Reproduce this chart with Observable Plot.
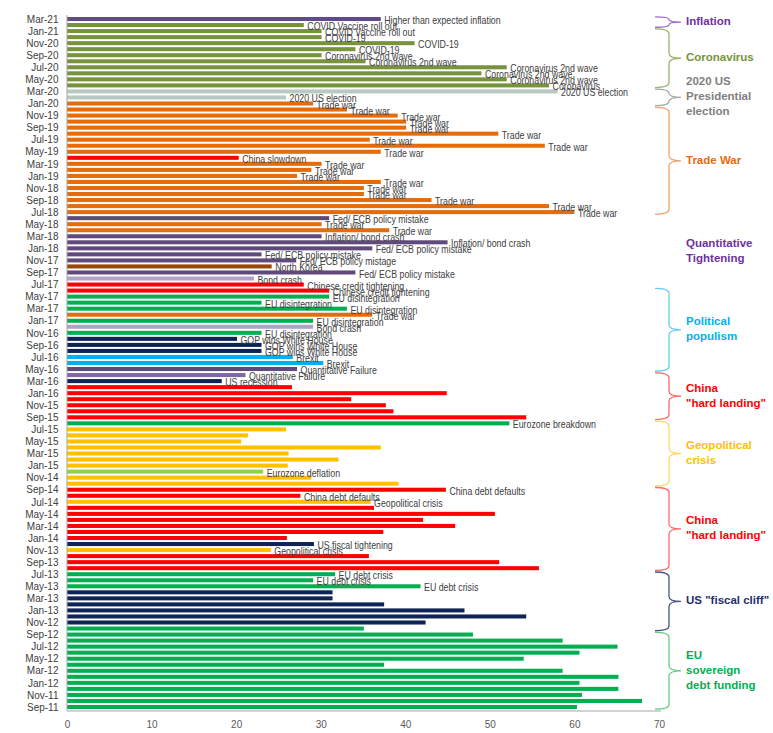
<!DOCTYPE html>
<html><head><meta charset="utf-8">
<script src="https://cdn.jsdelivr.net/npm/d3@7"></script>
<script src="https://cdn.jsdelivr.net/npm/@observablehq/plot@0.6"></script>
<style>
html,body{margin:0;padding:0;background:#fff;}
#chart svg{display:block;overflow:visible;}
</style></head><body><div id="chart"></div>
<script>
// Months, oldest to newest
const months = [
  "Sep-11","Oct-11","Nov-11","Dec-11",
  "Jan-12","Feb-12","Mar-12","Apr-12","May-12","Jun-12","Jul-12","Aug-12","Sep-12","Oct-12","Nov-12","Dec-12",
  "Jan-13","Feb-13","Mar-13","Apr-13","May-13","Jun-13","Jul-13","Aug-13","Sep-13","Oct-13","Nov-13","Dec-13",
  "Jan-14","Feb-14","Mar-14","Apr-14","May-14","Jun-14","Jul-14","Aug-14","Sep-14","Oct-14","Nov-14","Dec-14",
  "Jan-15","Feb-15","Mar-15","Apr-15","May-15","Jun-15","Jul-15","Aug-15","Sep-15","Oct-15","Nov-15","Dec-15",
  "Jan-16","Feb-16","Mar-16","Apr-16","May-16","Jun-16","Jul-16","Aug-16","Sep-16","Oct-16","Nov-16","Dec-16",
  "Jan-17","Feb-17","Mar-17","Apr-17","May-17","Jun-17","Jul-17","Aug-17","Sep-17","Oct-17","Nov-17","Dec-17",
  "Jan-18","Feb-18","Mar-18","Apr-18","May-18","Jun-18","Jul-18","Aug-18","Sep-18","Oct-18","Nov-18","Dec-18",
  "Jan-19","Feb-19","Mar-19","Apr-19","May-19","Jun-19","Jul-19","Aug-19","Sep-19","Oct-19","Nov-19","Dec-19",
  "Jan-20","Feb-20","Mar-20","Apr-20","May-20","Jun-20","Jul-20","Aug-20","Sep-20","Oct-20","Nov-20","Dec-20",
  "Jan-21","Feb-21","Mar-21"
];
const values = [
  60.3,68.0,60.9,65.2,
  60.6,65.2,58.6,37.5,54.0,60.6,65.1,58.6,48.0,35.1,42.4,54.3,
  47.0,37.5,31.4,31.4,41.8,29.1,31.7,55.8,51.1,35.7,24.1,29.2,
  26.0,37.4,45.9,42.1,50.6,36.3,35.9,27.6,44.8,39.2,28.9,23.2,
  26.1,32.1,26.2,37.1,20.6,21.4,25.9,52.3,54.3,38.6,37.7,33.6,
  44.9,26.6,18.3,21.1,27.2,30.3,26.7,23.0,23.0,20.1,23.0,29.1,
  29.1,36.1,33.1,23.0,31.0,31.0,28.0,22.1,34.1,24.2,27.1,23.0,
  36.1,45.0,30.1,38.1,30.1,31.0,60.0,57.0,43.1,35.1,35.1,37.1,
  27.2,28.9,30.1,20.3,37.1,56.5,35.8,51.0,40.1,40.1,39.1,33.1,
  29.1,25.9,58.0,57.0,52.0,49.0,52.0,35.3,30.1,34.1,41.1,30.1,
  30.1,28.0,37.1
];
const themes = [
  "EU","EU","EU","EU",
  "EU","EU","EU","EU","EU","EU","EU","EU","EU","EU","US","US",
  "US","US","US","US","EU","EU","EU","China","China","China","Geo","US",
  "China","China","China","China","China","China","Geo","China","China","Geo","Geo","Deflation",
  "Geo","Geo","Geo","Geo","Geo","Geo","Geo","EU","China","China","China","China",
  "China","China","US","QTlight","QT","Populism","Populism","US","US","US","EU","BondCrash",
  "EU","Trade","EU","EU","EU","China","China","BondCrash","QT","NK","QT","QT",
  "QT","QT","QT","Trade","Trade","QT","Trade","Trade","Trade","Trade","Trade","Trade",
  "Trade","Trade","Trade","China","Trade","Trade","Trade","Trade","Trade","Trade","Trade","Trade",
  "Trade","Election","Election","Covid","Covid","Covid","Covid","Covid","Covid","Covid","Covid","Covid",
  "Covid","Covid","Inflation"
];
const labels = [
  "","","","",
  "","","","","","","","","","","","",
  "","","","","EU debt crisis","EU debt crisis","EU debt crisis","","","","Geopolitical crisis","US fiscal tightening",
  "","","","","","","Geopolitical crisis","China debt defaults","China debt defaults","","","Eurozone deflation",
  "","","","","","","","Eurozone breakdown","","","","",
  "","","US recession","Quantitative Failure","Quantitative Failure","Brexit","Brexit","GOP wins White House","GOP wins White House","GOP wins White House","EU disintegration","Bond crash",
  "EU disintegration","Trade war","EU disintegration","EU disintegration","EU disintegration","Chinese credit tightening","Chinese credit tightening","Bond crash","Fed/ ECB policy mistake","North Korea","Fed/ ECB policy mistage","Fed/ ECB policy mistake",
  "Fed/ ECB policy mistake","Inflation/ bond crash","Inflation/ bond crash","Trade war","Trade war","Fed/ ECB policy mistake","Trade war","Trade war","Trade war","Trade war","Trade war","Trade war",
  "Trade war","Trade war","Trade war","China slowdown","Trade war","Trade war","Trade war","Trade war","Trade war","Trade war","Trade war","Trade war",
  "Trade war","2020 US election","2020 US election","Coronavirus","Coronavirus 2nd wave","Coronavirus 2nd wave","Coronavirus 2nd wave","Coronavirus 2nd wave","Coronavirus 2nd wave","COVID-19","COVID-19","COVID-19",
  "COVID Vaccine roll out","COVID Vaccine roll out","Higher than expected inflation"
];
const xTicks = [0,10,20,30,40,50,60,70];
const yTicks = months.filter(m => /^(Jan|Mar|May|Jul|Sep|Nov)/.test(m));

// Right-hand theme annotations
const groupNames = ["Inflation","Coronavirus","2020 US\nPresidential\nelection","Trade War","Quantitative\nTightening","Political\npopulism","China\n\"hard landing\"","Geopolitical\ncrisis","China\n\"hard landing\"","US \"fiscal cliff\"","EU\nsovereign\ndebt funding"];
const groupFrom = ["Mar-21","Jan-21","Mar-20","Dec-19","Jun-18","Jun-17","Apr-16","Aug-15","Sep-14","Jul-13","Sep-12"];
const groupTo   = ["Feb-21","Apr-20","Jan-20","Jul-18","Jul-17","May-16","Sep-15","Oct-14","Aug-13","Oct-12","Sep-11"];
const groupKeys = ["Inflation","Covid","Election","Trade","QT","Populism","China","Geo","China","US","EU"];
const groupBracket = [true,true,true,true,false,true,true,true,true,true,true];

// styles
const barColor = {
  EU:"#00b050", US:"#0e2356", China:"#ff0000", Geo:"#ffc000", Deflation:"#92d050",
  QT:"#604a7b", QTlight:"#7d68a0", BondCrash:"#b3a2c7", Populism:"#00b0f0",
  Trade:"#e46c0a", NK:"#984807", Election:"#b7cabf", Covid:"#77933c", Inflation:"#5f4a8b"
};
const textColor = {Inflation:"#7030a0", Covid:"#77933c", Election:"#7f7f7f", Trade:"#e46c0a", QT:"#7030a0",
  Populism:"#00b0f0", China:"#ff0000", Geo:"#ffc000", US:"#1f2e6b", EU:"#00b050"};
const braceColor = {Inflation:"#a070d0", Covid:"#9bb56a", Election:"#a6a6a6", Trade:"#f4a06a", QT:"#7030a0",
  Populism:"#66ccf5", China:"#ff6a6a", Geo:"#ffd966", US:"#4a5680", EU:"#66cc88"};

const data = months.map((m, i) => ({month: m, value: values[i], theme: themes[i], label: labels[i]}));
const groups = groupNames.map((n, i) => ({name: n, from: groupFrom[i], to: groupTo[i], key: groupKeys[i], bracket: groupBracket[i]}));

const sans = "'Liberation Sans',Arial,sans-serif";

function annotations(index, scales, vals, dims) {
  const {width, marginRight, marginLeft, marginTop, height, marginBottom} = dims;
  const y = scales.y;
  const bw = y.bandwidth();
  const step = y.step();
  const gap = (step - bw) / 2;
  const g = d3.create("svg:g").attr("text-anchor", "start");
  const xr = width - marginRight;
  // axis lines
  g.append("line").attr("x1", marginLeft).attr("x2", marginLeft)
    .attr("y1", marginTop).attr("y2", height - marginBottom)
    .attr("stroke", "#a6a6a6").attr("stroke-width", 1);
  g.append("line").attr("x1", marginLeft).attr("x2", xr + 2)
    .attr("y1", height - marginBottom).attr("y2", height - marginBottom)
    .attr("stroke", "#a6a6a6").attr("stroke-width", 1);
  const x0 = xr - 4, x1 = xr + 10, x2 = xr + 22;
  for (const gr of groups) {
    const top = y(gr.from) - gap + 0.8;
    const bot = y(gr.to) + bw + gap - 0.8;
    const mid = (top + bot) / 2;
    if (gr.bracket) {
      const r = Math.min(5, (bot - top) / 4);
      const p = `M${x0},${top} Q${x1},${top} ${x1},${top + r} L${x1},${mid - r} Q${x1},${mid} ${x2},${mid} Q${x1},${mid} ${x1},${mid + r} L${x1},${bot - r} Q${x1},${bot} ${x0},${bot}`;
      g.append("path").attr("d", p).attr("fill", "none")
        .attr("stroke", braceColor[gr.key]).attr("stroke-width", 1.3);
    }
    const lines = gr.name.split("\n");
    const lh = 15;
    const tx = xr + 27;
    const t = g.append("text")
      .attr("x", tx)
      .attr("y", mid - (lines.length - 1) * lh / 2)
      .attr("text-anchor", "start")
      .attr("fill", textColor[gr.key])
      .attr("font-family", sans)
      .attr("font-weight", "bold")
      .attr("font-size", 11.5)
      .attr("dominant-baseline", "middle");
    lines.forEach((l, i) => t.append("tspan").attr("x", tx).attr("dy", i === 0 ? 0 : lh).text(l));
  }
  return g.node();
}

const chart = Plot.plot({
  width: 773,
  height: 733,
  marginLeft: 67,
  marginRight: 114,
  marginTop: 15,
  marginBottom: 22,
  style: {fontFamily: sans, background: "#fff", overflow: "visible"},
  x: {domain: [0, 70], ticks: xTicks, label: null},
  y: {domain: months.slice().reverse(), padding: 0.33, round: false, label: null},
  marks: [
    Plot.barX(data, {x: "value", y: "month", fill: d => barColor[d.theme]}),
    Plot.text(data.filter(d => d.label), {
      x: "value", y: "month", text: "label", textAnchor: "start",
      dx: 3, dy: 1, fontSize: 11, fill: "#404040", fontFamily: sans
    }),
    Plot.axisX({ticks: xTicks, tickSize: 0, tickPadding: 9, fontSize: 10, fill: "#595959", label: null}),
    Plot.axisY({ticks: yTicks, tickSize: 0, tickPadding: 9, fontSize: 10, fill: "#404040", label: null}),
    annotations
  ]
});
document.getElementById("chart").appendChild(chart);
// condense the data labels horizontally, like the narrow typeface of the original
chart.querySelectorAll('g[aria-label="text"] text').forEach(t => {
  const L = t.getComputedTextLength();
  if (L > 0) {
    t.setAttribute("textLength", (L * 0.8).toFixed(1));
    t.setAttribute("lengthAdjust", "spacingAndGlyphs");
  }
});
</script></body></html>
